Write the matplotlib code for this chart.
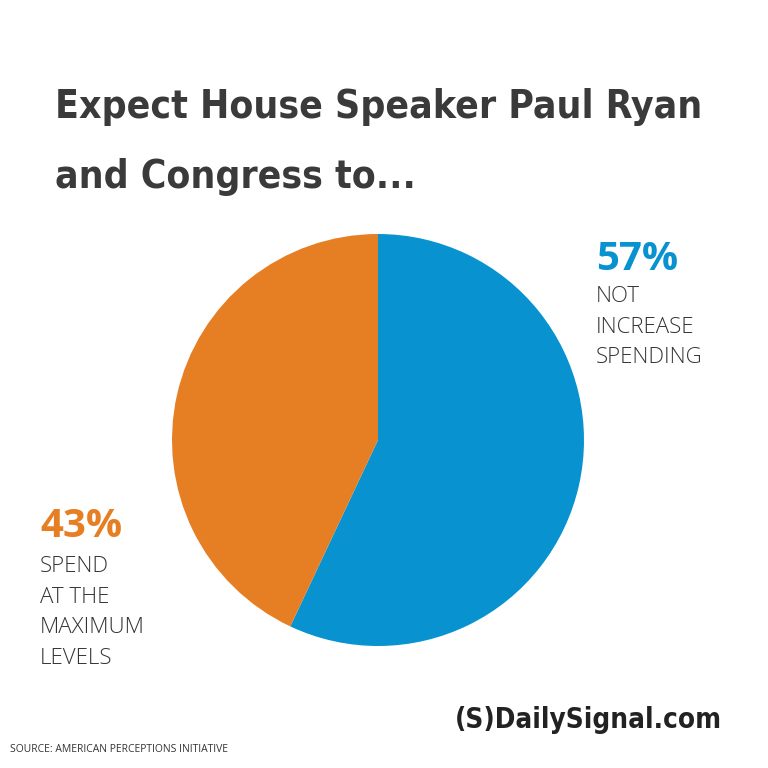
import matplotlib
matplotlib.use("Agg")
import matplotlib.pyplot as plt

labels = ["NOT\nINCREASE\nSPENDING", "SPEND\nAT THE\nMAXIMUM\nLEVELS"]
values = [57, 43]
colors = ["#0893D0", "#E67E24"]

fig = plt.figure(figsize=(7.68, 7.68), dpi=100)
fig.patch.set_facecolor("white")
W = 768
ax = fig.add_axes([(378-206)/W, 1-(440+206)/W, 412/W, 412/W])
ax.pie(values, colors=colors, startangle=90, counterclock=False, radius=1,
       wedgeprops=dict(linewidth=0))
ax.set_xlim(-1, 1); ax.set_ylim(-1, 1)
ax.set_aspect("equal")
ax.axis("off")

tf = ["DejaVu Sans"]
for y, s in [(118, "Expect House Speaker Paul Ryan"), (188, "and Congress to...")]:
    fig.text(55/W, 1-y/W, s, fontsize=28, fontweight="bold", fontstretch="condensed",
             family=tf, color="#3a3a3a", va="baseline")

fig.text(596/W, 1-270/W, f"{values[0]}%", fontsize=29, fontweight="bold", color=colors[0],
         family=["Open Sans"], va="baseline")
fig.text(596/W, 1-286/W, labels[0], fontsize=16, fontweight="light", color="#333333",
         family=["Open Sans"], va="top", linespacing=1.6)
fig.text(40/W, 1-537/W, f"{values[1]}%", fontsize=29, fontweight="bold", color=colors[1],
         family=["Open Sans"], va="baseline")
fig.text(40/W, 1-556/W, labels[1], fontsize=16, fontweight="light", color="#333333",
         family=["Open Sans"], va="top", linespacing=1.6)

fig.text(722/W, 1-728/W, "(S)DailySignal.com", fontsize=20, fontweight="bold",
         fontstretch="condensed", family=tf,
         color="#222222", ha="right", va="baseline")
fig.text(10/W, 1-752/W, "SOURCE: AMERICAN PERCEPTIONS INITIATIVE", fontsize=7.5,
         color="#333333", family=["Open Sans"], va="baseline")

fig.savefig("out.png", dpi=100, facecolor="white")
